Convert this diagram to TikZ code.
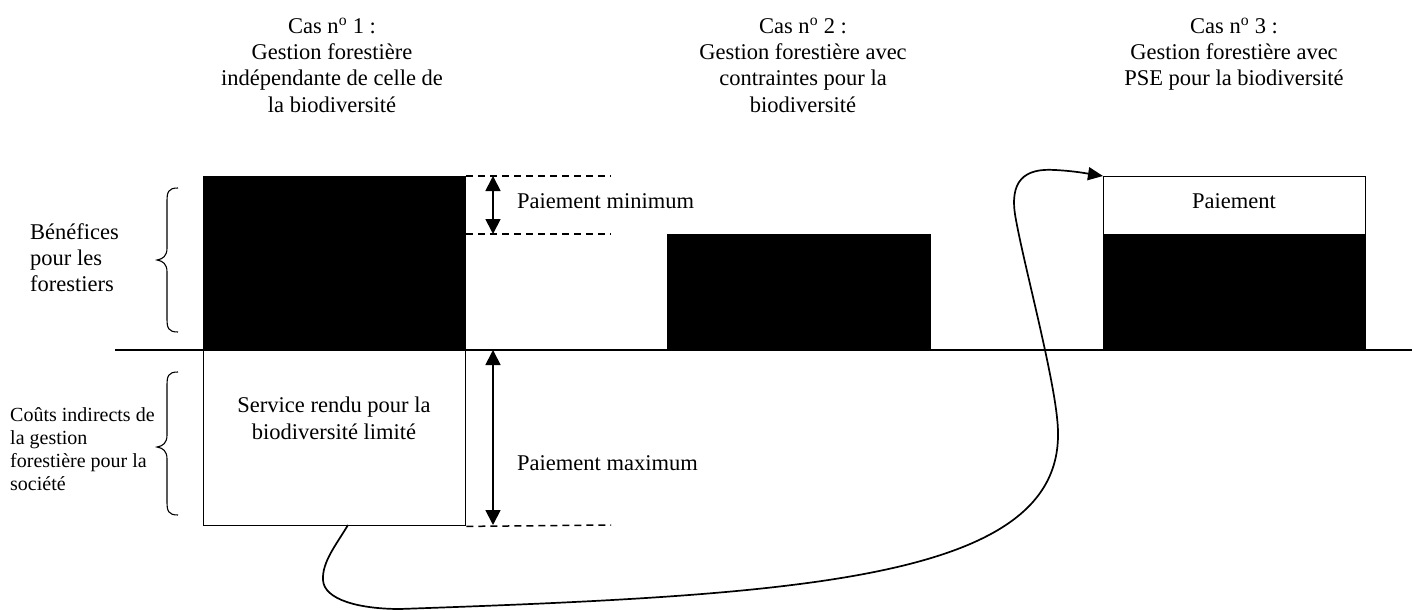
\documentclass[tikz,border=0pt]{standalone}
\usepackage{fontspec}
\setmainfont{Liberation Serif}
\usetikzlibrary{arrows.meta}
\begin{document}
\begin{tikzpicture}[x=1pt,y=-1pt,
  big/.style={font=\fontsize{22.5}{26.3}\selectfont, inner sep=0pt},
  small/.style={font=\fontsize{20}{23}\selectfont, inner sep=0pt},
  blackbox/.style={rectangle, draw=black, fill=black, inner sep=0pt, anchor=north west, line width=1pt},
  whitebox/.style={rectangle, draw=black, fill=white, inner sep=0pt, anchor=north west, line width=1.4pt},
  guide/.style={dash pattern=on 7pt off 5pt, line width=1.5pt},
  dimarrow/.style={{Triangle[length=15pt,width=15pt]}-{Triangle[length=15pt,width=15pt]}, line width=1.8pt},
  bracestyle/.style={line width=1.1pt},
  flow/.style={line width=1.7pt, -{Triangle[length=15pt,width=13pt]}}]
\useasboundingbox (0,0) rectangle (1414,610);

% titles
\node[big, align=center, anchor=north] (t1) at (332,18) {Cas n\textsuperscript{o}~1 :\\Gestion forestière\\indépendante de celle de\\la biodiversité};
\node[big, align=center, anchor=north] (t2) at (803,18) {Cas n\textsuperscript{o}~2 :\\Gestion forestière avec\\contraintes pour la\\biodiversité};
\node[big, align=center, anchor=north] (t3) at (1234,18) {Cas n\textsuperscript{o}~3 :\\Gestion forestière avec\\PSE pour la biodiversité};

% boxes
\node[blackbox, minimum width=262pt, minimum height=174pt] (b1) at (203,176) {};
\node[whitebox, minimum width=262pt, minimum height=175pt] (w1) at (203,350) {};
\node[blackbox, minimum width=263pt, minimum height=116pt] (b2) at (667,234) {};
\node[whitebox, line width=1.2pt, minimum width=262pt, minimum height=58pt] (w3) at (1103,176) {};
\node[blackbox, minimum width=262pt, minimum height=116pt] (b3) at (1103,234) {};

% axis
\coordinate (axL) at (115,350);
\coordinate (axR) at (1412,350);
\draw[line width=2pt] (axL) -- (axR);

% dashed guides
\coordinate (g1) at (611,176);
\coordinate (g2) at (611,234);
\coordinate (g3) at (611,525);
\draw[guide] (b1.north east) -- (g1);
\draw[guide] (b1.north east |- b2.north) -- (g2);
\draw[guide] (w1.south east) -- (g3);

% dimension arrows
\coordinate (m1) at (493,176);
\coordinate (m2) at (493,234);
\coordinate (m3) at (493,350);
\coordinate (m4) at (493,525);
\draw[dimarrow] (m1) -- (m2);
\draw[dimarrow] (m3) -- (m4);

% labels
\node[big, anchor=base west] (pmin) at (517,208) {Paiement minimum};
\node[big, anchor=base west] (pmax) at (517,470) {Paiement maximum};
\node[big, anchor=base] (pay) at (1234,208) {Paiement};
\node[big, align=center, anchor=north] (serv) at (334,397) {Service rendu pour la\\biodiversité limité};
\node[big, align=left, anchor=north west] (bene) at (30,223) {Bénéfices\\pour les\\forestiers};
\node[small, align=left, anchor=north west] (cout) at (10,407) {Coûts indirects de\\la gestion\\forestière pour la\\société};

% braces
\draw[bracestyle] (178,188) .. controls (168,188) and (167,192) .. (167,202) -- (167,248)
  .. controls (167,256) and (163,259) .. (157,260)
  .. controls (163,261) and (167,264) .. (167,272) -- (167,318)
  .. controls (167,328) and (168,332) .. (178,332);
\draw[bracestyle] (178,372) .. controls (168,372) and (167,376) .. (167,386) -- (167,435)
  .. controls (167,443) and (163,446) .. (157,447)
  .. controls (163,448) and (167,451) .. (167,459) -- (167,501)
  .. controls (167,511) and (168,515) .. (178,515);

% flow curve
\coordinate (c0) at (348,525);
\draw[flow] (c0) .. controls (336,545) and (322,562) .. (323,580)
  .. controls (324,600) and (360,609) .. (400,609)
  .. controls (800,595) and (1060,580) .. (1058,433)
  .. controls (1058,390) and (1025,270) .. (1016,220)
  .. controls (1008,180) and (1025,168) .. (1055,170)
  .. controls (1075,171) and (1090,174) .. (w3.north west);
\end{tikzpicture}
\end{document}
